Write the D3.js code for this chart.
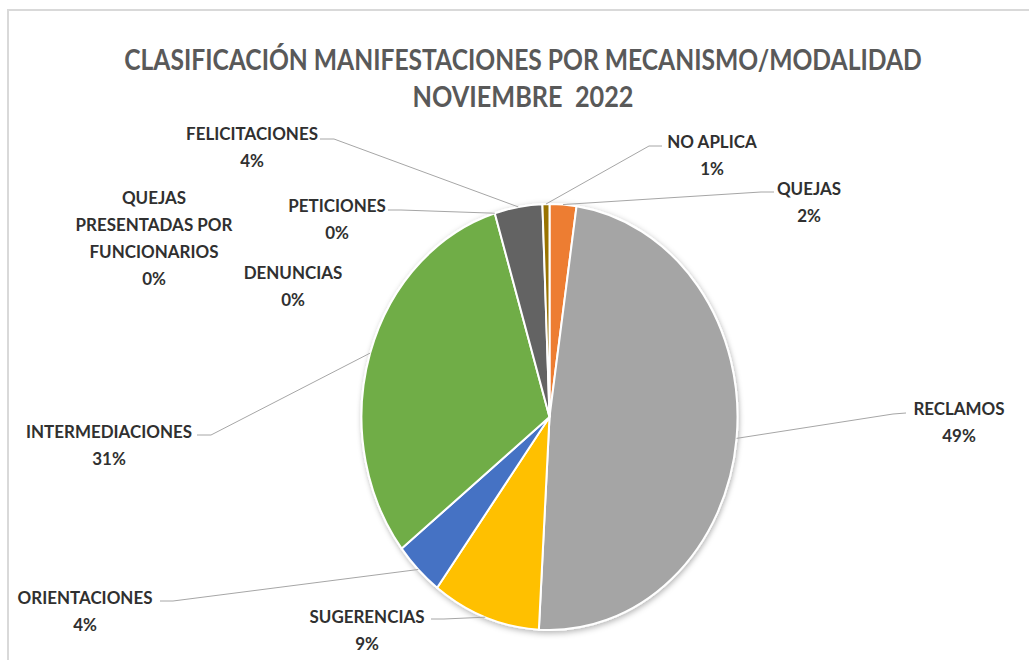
<!DOCTYPE html>
<html>
<head>
<meta charset="utf-8">
<script src="https://cdn.jsdelivr.net/npm/d3@7"></script>
<style>
  html, body { margin: 0; padding: 0; background: #fff; }
  #chart { width: 1029px; height: 660px; overflow: hidden; }
  text { font-family: Lato, "Open Sans", sans-serif; white-space: pre; }
</style>
</head>
<body>
<div id="chart"></div>
<script>
'use strict';

// data, clockwise from 12 o'clock
const categories = [
  'QUEJAS', 'RECLAMOS', 'SUGERENCIAS', 'ORIENTACIONES', 'INTERMEDIACIONES',
  'DENUNCIAS', 'QUEJAS PRESENTADAS POR FUNCIONARIOS', 'PETICIONES',
  'FELICITACIONES', 'NO APLICA'
];
const values = [2.3, 48.6, 9.3, 4.2, 30.9, 0, 0, 0, 4.1, 0.6];
const sliceColors = [
  '#ED7D31', '#A5A5A5', '#FFC000', '#4472C4', '#70AD47',
  '#264478', '#9E480E', '#5B9BD5', '#636363', '#997300'
];
const titleLines = ['CLASIFICACIÓN MANIFESTACIONES POR MECANISMO/MODALIDAD', 'NOVIEMBRE  2022'];

// label layout: text lines, centre x, first baseline, leader anchor + elbow
const labelLines = [
  ['QUEJAS'], ['RECLAMOS'], ['SUGERENCIAS'], ['ORIENTACIONES'], ['INTERMEDIACIONES'],
  ['DENUNCIAS'], ['QUEJAS', 'PRESENTADAS POR', 'FUNCIONARIOS'], ['PETICIONES'],
  ['FELICITACIONES'], ['NO APLICA']
];
const labelLayout = [
  { x: 809, y: 195, anchor: [774, 192], elbow: [761, 192] },
  { x: 959, y: 415, anchor: [906, 413], elbow: [893, 414] },
  { x: 367, y: 623, anchor: [431, 619], elbow: [444, 619] },
  { x: 85,  y: 604, anchor: [160, 601], elbow: [173, 601] },
  { x: 109, y: 438, anchor: [197, 435], elbow: [211, 435] },
  { x: 293, y: 279, anchor: null },
  { x: 154, y: 204, anchor: null },
  { x: 337, y: 212, anchor: [388, 210], elbow: [401, 210] },
  { x: 252, y: 140, anchor: [320, 139], elbow: [334, 139] },
  { x: 712, y: 148, anchor: [662, 146], elbow: [649, 146] }
];

const W = 1029, H = 660;
const CX = 549.5, CY = 417;
const RY = 213;          // vertical radius
const SX = 188 / 213;    // the picture is squeezed horizontally
const LABEL_SX = 0.97;
const LINE_H = 27;

const svg = d3.select('#chart').append('svg')
  .attr('width', W).attr('height', H);

const defs = svg.append('defs');
const shadow = defs.append('filter').attr('id', 'shadow')
  .attr('x', '-20%').attr('y', '-20%').attr('width', '140%').attr('height', '140%');
shadow.append('feDropShadow')
  .attr('dx', 1).attr('dy', 2).attr('stdDeviation', 3)
  .attr('flood-color', '#000').attr('flood-opacity', 0.3);

// chart area border
svg.append('rect')
  .attr('x', 8).attr('y', 10).attr('width', W + 20).attr('height', H + 20)
  .attr('fill', '#fff').attr('stroke', '#d9d9d9').attr('stroke-width', 2);

// title, squeezed to the reference width
const titleBase = [70, 107];
const titleWidth = [798, 221];
titleLines.forEach((t, i) => {
  const el = svg.append('text')
    .attr('text-anchor', 'middle')
    .attr('font-size', 29)
    .attr('font-weight', 700)
    .attr('fill', '#595959')
    .text(t);
  const natural = el.node().getComputedTextLength();
  el.attr('transform', `translate(523,${titleBase[i]}) scale(${titleWidth[i] / natural},1)`);
});

const data = categories.map((c, i) => ({ name: c, value: values[i], color: sliceColors[i], lines: labelLines[i], pos: labelLayout[i] }));
const total = d3.sum(values);
const pct = d3.format('.0%');

const pie = d3.pie().sort(null).value(d => d.value).startAngle(0).endAngle(2 * Math.PI);
const arcs = pie(data);
const arc = d3.arc().innerRadius(0).outerRadius(RY);

const pieG = svg.append('g')
  .attr('transform', `translate(${CX},${CY}) scale(${SX},1)`);

pieG.append('g')
  .attr('filter', 'url(#shadow)')
  .selectAll('path')
  .data(arcs.filter(a => a.value > 0))
  .join('path')
  .attr('d', arc)
  .attr('fill', d => d.data.color)
  .attr('stroke', '#fff')
  .attr('stroke-width', 2)
  .attr('vector-effect', 'non-scaling-stroke');

// leader lines from the rim at each slice's mid angle
const rimPoint = a => {
  const m = (a.startAngle + a.endAngle) / 2;
  return [CX + RY * SX * Math.sin(m), CY - RY * Math.cos(m)];
};

arcs.forEach(a => {
  const p = a.data.pos;
  if (!p.anchor) return;
  svg.append('path')
    .attr('d', d3.line()([rimPoint(a), p.elbow, p.anchor]))
    .attr('fill', 'none')
    .attr('stroke', '#a6a6a6')
    .attr('stroke-width', 1);
});

// labels
arcs.forEach(a => {
  const p = a.data.pos;
  const lines = a.data.lines.concat([pct(a.value / total)]);
  const t = svg.append('text')
    .attr('transform', `translate(${p.x},${p.y}) scale(${LABEL_SX},1)`)
    .attr('text-anchor', 'middle')
    .attr('font-size', 17.5)
    .attr('font-weight', 700)
    .attr('fill', '#303030');
  lines.forEach((l, i) => {
    t.append('tspan').attr('x', 0).attr('y', i * LINE_H).text(l);
  });
});
</script>
</body>
</html>
